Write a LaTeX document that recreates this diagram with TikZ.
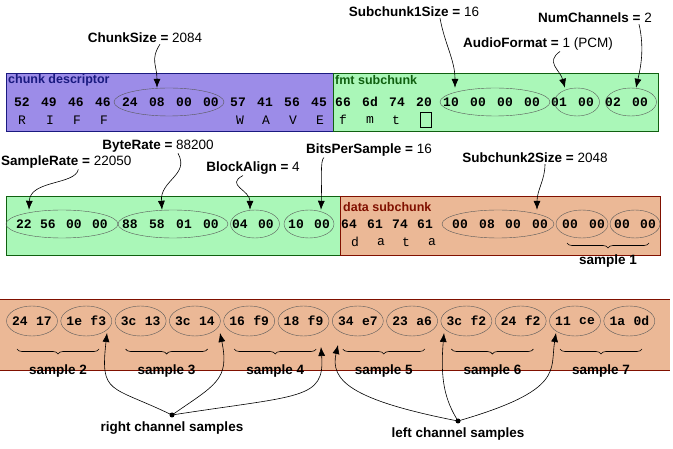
\documentclass[tikz,border=0pt]{standalone}
\usepackage{fontspec}
\setmainfont{Liberation Sans}
\newfontfamily\hexfont{Liberation Mono}
\usetikzlibrary{positioning,calc,arrows.meta,shapes.geometric,decorations.pathreplacing}
\definecolor{riffbg}{HTML}{9C8CE8}
\definecolor{riffln}{HTML}{1A1A80}
\definecolor{fmtbg}{HTML}{AAF7B8}
\definecolor{fmtln}{HTML}{106010}
\definecolor{databg}{HTML}{EBB896}
\definecolor{dataln}{HTML}{801000}
\tikzset{
  hexb/.style={font=\hexfont\bfseries\fontsize{13}{13}\selectfont, inner sep=0},
  chr/.style={font=\hexfont\fontsize{13}{13}\selectfont, inner sep=0},
  grp/.style={draw=black!65, ellipse, inner sep=0, minimum height=28pt},
  lab/.style={font=\fontsize{13.5}{15}\selectfont, inner sep=1pt},
  boxcap/.style={font=\bfseries\fontsize{12.5}{14}\selectfont, inner sep=0, anchor=west},
  smp/.style={font=\bfseries\fontsize{13.5}{15}\selectfont},
  ptr/.style={-{Latex[length=9pt,width=7pt]}, semithick},
  brc/.style={decorate, decoration={brace, mirror, amplitude=5pt}, semithick}
}
\begin{document}
\begin{tikzpicture}[x=1pt,y=-1pt]
\useasboundingbox (0,0) rectangle (673,449);

% chunk descriptor and fmt subchunk
\filldraw[fill=riffbg, draw=riffln, thick] (6,73) rectangle (333,131);
\filldraw[fill=fmtbg, draw=fmtln, thick] (333,73) rectangle (658,131);
\node[boxcap, text=riffln] (riffcap) at (8,80) {chunk descriptor};
\node[boxcap, text=fmtln] (fmtcap) at (335,80) {fmt subchunk};
\foreach \b [count=\i] in {52,49,46,46,24,08,00,00,57,41,56,45}
  \node[hexb] (r\i) at (22+27*\i-27,102) {\b};
\foreach \b [count=\i] in {66,6d,74,20,10,00,00,00,01,00,02,00}
  \node[hexb] (f\i) at (343+27*\i-27,102) {\b};
\foreach \c/\x in {R/22,I/50,F/77,F/104,W/240,A/266,V/293,E/320,f/343,m/370,t/396}
  \node[chr] at (\x,120) {\c};
\draw[thick] (420,112) rectangle (431,127);
\node[grp, minimum width=110pt] (cs) at (169,102) {};
\node[grp, minimum width=110pt] (sc1) at (495,102) {};
\node[grp, minimum width=45pt] (af) at (577,102) {};
\node[grp, minimum width=51pt] (nc) at (631,102) {};

\node[lab] (cslab) at (145,38) {\textbf{ChunkSize =} 2084};
\node[lab] (sc1lab) at (414,12) {\textbf{Subchunk1Size =} 16};
\node[lab] (aflab) at (538,44) {\textbf{AudioFormat =} 1 (PCM)};
\node[lab] (nclab) at (595,18) {\textbf{NumChannels =} 2};
\draw[ptr] ([xshift=15pt]cslab.south) .. controls (150,60) and (157,65) .. ([xshift=-12pt]cs.north);
\draw[ptr] ([xshift=26pt]sc1lab.south) .. controls (445,45) and (455,60) .. ([xshift=-40pt]sc1.north);
\draw[ptr] ([xshift=22pt]aflab.south) .. controls (545,62) and (560,70) .. ([xshift=-12pt]af.north);
\draw[ptr] ([xshift=44pt]nclab.south) .. controls (645,50) and (640,70) .. ([xshift=5pt]nc.north);

% fmt subchunk (cont.) and data subchunk
\filldraw[fill=fmtbg, draw=fmtln, thick] (6,196) rectangle (340,255);
\filldraw[fill=databg, draw=dataln, thick] (340,196) rectangle (660,255);
\draw[fmtln, thick] (6,196) -- (340,196) (6,255) -- (340,255);
\node[boxcap, text=dataln] (datacap) at (343,207) {data subchunk};
\foreach \b/\x [count=\i] in {22/24,56/48,00/74,00/100,88/130,58/157,01/184,00/211,04/240,00/266,10/296,00/322}
  \node[hexb] (g\i) at (\x,224) {\b};
\foreach \b/\x [count=\i] in {64/349,61/375,74/400,61/425,00/460,08/487,00/513,00/540}
  \node[hexb] (d\i) at (\x,224) {\b};
\foreach \b/\x [count=\i] in {00/570,00/597,00/622,00/648}
  \node[hexb] (e\i) at (\x,224) {\b};
\foreach \c/\x in {d/355,a/381,t/406,a/432}
  \node[chr] at (\x,242) {\c};
\node[grp, minimum width=112pt] (sr) at (62,224) {};
\node[grp, minimum width=110pt] (br) at (173,224) {};
\node[grp, minimum width=49pt] (ba) at (255,224) {};
\node[grp, minimum width=50pt] (bps) at (309,224) {};
\node[grp, minimum width=112pt] (sc2) at (498,224) {};
\node[grp, minimum width=52pt] (smp1a) at (582,224) {};
\node[grp, minimum width=50pt] (smp1b) at (635,224) {};
\draw[brc] (567,243) -- (649,243) node[midway, below=8pt, smp] (s1lab) {sample 1};

\node[lab, anchor=west] (srlab) at (0,162) {\textbf{SampleRate =} 22050};
\node[lab] (brlab) at (158,146) {\textbf{ByteRate =} 88200};
\node[lab] (balab) at (253,168) {\textbf{BlockAlign =} 4};
\node[lab] (bpslab) at (369,150) {\textbf{BitsPerSample =} 16};
\node[lab] (sc2lab) at (535,158) {\textbf{Subchunk2Size =} 2048};
\draw[ptr] (srlab.south) ++(12pt,0) .. controls (75,185) and (30,180) .. ([xshift=-33pt]sr.north);
\draw[ptr] ([xshift=20pt]brlab.south) .. controls (190,175) and (160,180) .. ([xshift=-11pt]br.north);
\draw[ptr] ([xshift=-10pt]balab.south) .. controls (225,185) and (250,190) .. ([xshift=-5pt]ba.north);
\draw[ptr] ([xshift=-45pt]bpslab.south) .. controls (320,160) and (322,180) .. ([xshift=12pt]bps.north);
\draw[ptr] ([xshift=10pt]sc2lab.south) .. controls (545,180) and (537,190) .. ([xshift=39pt]sc2.north);

% sample data
\fill[databg] (0,299) rectangle (670,370);
\draw[dataln, thick] (0,299) -- (670,299) (0,370) -- (670,370);
\foreach \p/\q [count=\i from 0] in {24/17,1e/f3,3c/13,3c/14,16/f9,18/f9,34/e7,23/a6,3c/f2,24/f2,11/ce,1a/0d}{
  \node[grp, minimum width=51pt, minimum height=30pt] (w\i) at (32+54.3*\i,321) {};
  \node[hexb] at (32+54.3*\i-12,321) {\p};
  \node[hexb] at (32+54.3*\i+12,321) {\q};
}
\foreach \n in {2,...,7}
  \draw[brc] (17+108.6*\n-217.2,349) -- (99+108.6*\n-217.2,349)
    node[midway, below=12pt, smp] (s\n lab) {sample \n};

\fill (172,415) circle (2.5pt) coordinate (rdot);
\fill (458,421) circle (2.5pt) coordinate (ldot);
\node[smp, below=3pt of rdot] (rlab) {right channel samples};
\node[smp, below=3pt of ldot] (llab) {left channel samples};
\draw[ptr] (rdot) .. controls (110,385) and (100,395) .. (107,333);
\draw[ptr] (rdot) .. controls (215,385) and (230,380) .. (220,333);
\draw[ptr] (rdot) .. controls (300,395) and (325,400) .. (321,347);
\draw[ptr] (ldot) .. controls (350,400) and (330,380) .. (338,345);
\draw[ptr] (ldot) .. controls (445,400) and (440,380) .. (444,333);
\draw[ptr] (ldot) .. controls (565,390) and (550,370) .. (556,333);
\end{tikzpicture}
\end{document}
